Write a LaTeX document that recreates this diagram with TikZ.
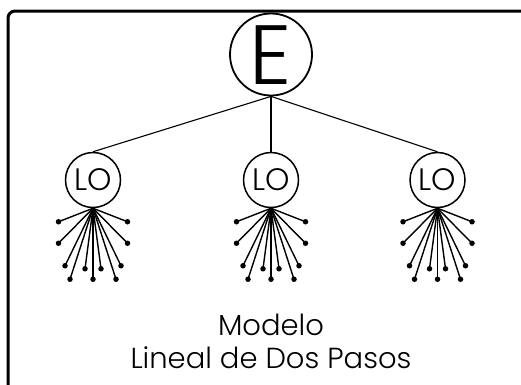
\documentclass[tikz,border=0pt]{standalone}
\usepackage{fontspec}
\setmainfont{Poppins Light}
\usetikzlibrary{calc}
\begin{document}
\begin{tikzpicture}[x=1pt,y=-1pt,
  boss/.style={circle,draw,line width=1.8pt,minimum size=82pt,inner sep=0pt},
  bossname/.style={inner sep=0pt,font=\fontsize{84}{86}\selectfont},
  office/.style={circle,draw,line width=1.5pt,minimum size=55pt,inner sep=0pt,
                 font=\fontsize{31}{33}\selectfont},
  link/.style={line width=1.1pt},
  spoke/.style={line width=1.4pt},
  tip/.style={circle,fill,inner sep=0pt,minimum size=5.5pt},
  caption/.style={anchor=base,inner sep=0pt,font=\fontsize{29}{31}\selectfont}]
  \useasboundingbox (0,0) rectangle (521,384);
  \begin{scope}
    \clip (0,0) rectangle (521,384);
    \draw[line width=3pt,rounded corners=7pt] (8,11) rectangle (560,420);
  \end{scope}

  \node[boss] (E) at (271,54.5) {};
  \node[bossname] (Ename) at (271,55) {E};
  \foreach \n/\x in {a/93,b/271,c/437.5}{
    \node[office] (L\n) at (\x,180) {LO};
    \draw[link] (E.south) -- (L\n.north);
    \coordinate (H\n) at ([yshift=3pt]L\n.south);
    \foreach \i/\dx/\dy in {1/-34.5/16.5,2/34.5/16.5,3/-34.5/38,4/34.5/38,
                            5/-28/60.5,6/28/60.5,7/-8/63.5,8/8/63.5,
                            9/-23/74,10/0/74,11/23/74}{
      \node[tip] (T\n\i) at ($(H\n)+(\dx,\dy)$) {};
      \draw[spoke] (L\n.south) -- (T\n\i.center);
    }
  }

  \node[caption] (cap1) at (271,335.7) {Modelo};
  \node[caption] (cap2) at (271,368.3) {Lineal de Dos Pasos};
\end{tikzpicture}
\end{document}
